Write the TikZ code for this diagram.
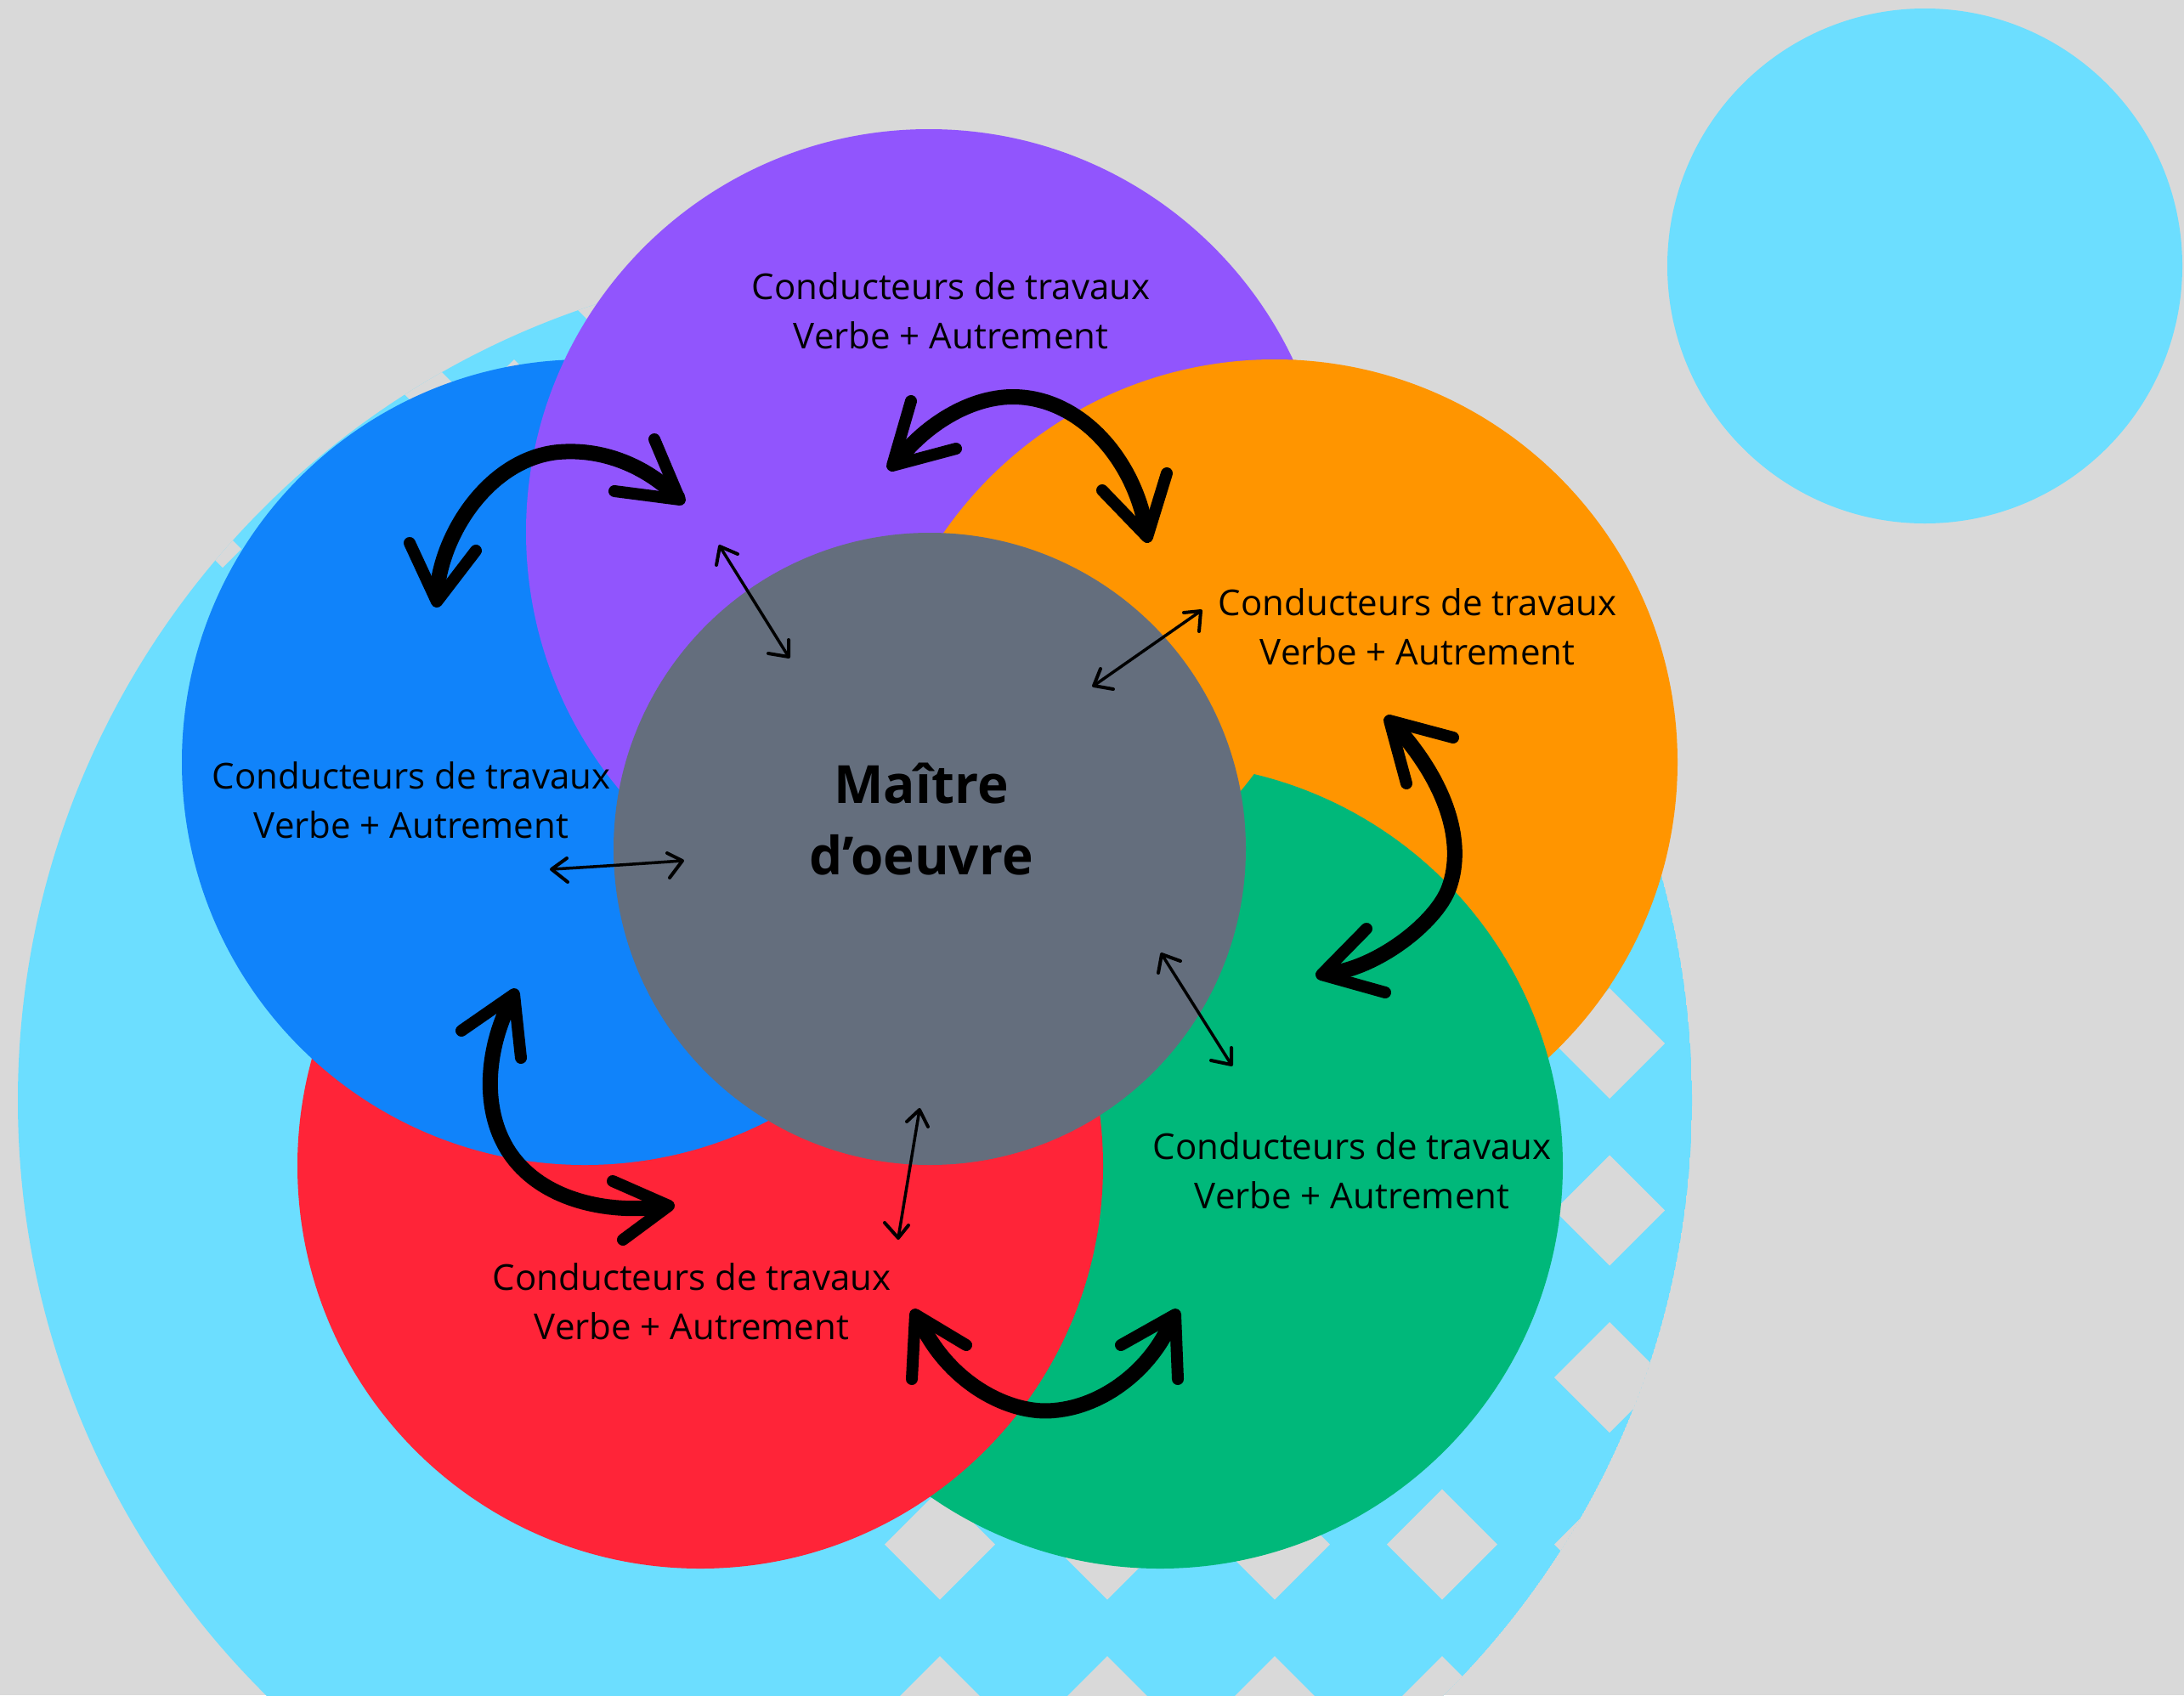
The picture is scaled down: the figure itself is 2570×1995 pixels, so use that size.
\documentclass[tikz,border=0pt]{standalone}
\usepackage{fontspec}
\setmainfont{Open Sans}
\definecolor{bgc}{RGB}{217,217,217}
\definecolor{cyanc}{RGB}{108,222,255}
\definecolor{purplec}{RGB}{145,85,253}
\definecolor{orangec}{RGB}{255,149,0}
\definecolor{bluec}{RGB}{16,131,250}
\definecolor{redc}{RGB}{255,36,56}
\definecolor{greenc}{RGB}{0,184,122}
\definecolor{grayc}{RGB}{100,110,125}
\tikzset{
  lbl/.style={align=center, text=black, inner sep=0pt, font=\fontsize{42}{58}\selectfont},
  mainlbl/.style={align=center, text=black, inner sep=0pt, font=\bfseries\fontsize{62}{84}\selectfont},
  bigarc/.style={draw=black, line width=18pt, line cap=round, line join=round},
  bighead/.style={draw=black, line width=14pt, line cap=round, line join=round},
  thinarc/.style={draw=black, line width=3.5pt, line cap=round},
  thinhead/.style={draw=black, line width=4pt, line cap=round, line join=round},
  hole/.style={fill=bgc}
}
\newcommand{\diam}[3]{\fill[hole] (#1,#2) +(0,-#3) -- +(#3,0) -- +(0,#3) -- +(-#3,0) -- cycle;}
\begin{document}
\begin{tikzpicture}[x=1pt,y=-1pt]
\useasboundingbox (0,0) rectangle (2570,1995);
\fill[bgc] (0,0) rectangle (2570,1995);
% small circle top right
\fill[cyanc] (2265,313) circle[radius=303pt];
% big patterned circle
\begin{scope}
  \clip (1006,1295) circle[radius=985pt];
  \fill[cyanc] (1006,1295) circle[radius=985pt];
  \foreach \i in {0,...,4}{
    \foreach \j in {0,...,4}{
      \pgfmathsetmacro{\dx}{1106+197*\i}
      \pgfmathsetmacro{\dy}{1228+196.5*\j}
      \diam{\dx}{\dy}{65}
    }
  }
  \diam{502}{455}{35}
  \diam{605}{488}{65}
  \diam{740}{360}{65}
  \diam{262}{646}{22}
\end{scope}
% coloured circles (cyclic overlap)
\fill[orangec] (1500,897) circle[radius=474pt];
\fill[greenc] (1365,1372) circle[radius=474pt];
\fill[redc] (824,1372) circle[radius=474pt];
\fill[bluec] (688,897) circle[radius=474pt];
\fill[purplec] (1093,626) circle[radius=474pt];
\begin{scope}
  \clip (1093,626) circle[radius=477pt];
  \fill[orangec] (1500,897) circle[radius=474pt];
\end{scope}
\fill[grayc] (1094,999) circle[radius=372pt];
% labels
\node[lbl] (tP) at (1119,366) {Conducteurs de travaux\\Verbe + Autrement};
\node[lbl] (tO) at (1668,738) {Conducteurs de travaux\\Verbe + Autrement};
\node[lbl] (tB) at (484,942) {Conducteurs de travaux\\Verbe + Autrement};
\node[lbl] (tG) at (1591,1378) {Conducteurs de travaux\\Verbe + Autrement};
\node[lbl] (tR) at (814,1532) {Conducteurs de travaux\\Verbe + Autrement};
\node[mainlbl] (tM) at (1084,964) {Maître\\d’oeuvre};
% big arrow A (blue - purple)
\coordinate (A1) at (514,708); \coordinate (A2) at (800,588);
\draw[bigarc] (514,700) .. controls (518,630) and (575,540) .. (657,532) .. controls (715,527) and (765,553) .. (797,585);
\draw[bighead] (482,639) -- (A1) -- (560,648);
\draw[bighead] (770,517) -- (A2) -- (723,578);
% big arrow B (purple - orange)
\coordinate (B1) at (1050,548); \coordinate (B2) at (1350,632);
\draw[bigarc] (1058,540) .. controls (1090,500) and (1140,468) .. (1190,467) .. controls (1270,466) and (1335,540) .. (1349,625);
\draw[bighead] (1072,472) -- (B1) -- (1125,528);
\draw[bighead] (1373,557) -- (B2) -- (1297,577);
% big arrow C (orange - green)
\coordinate (C1) at (1635,848); \coordinate (C2) at (1555,1147);
\draw[bigarc] (1645,858) .. controls (1700,920) and (1725,990) .. (1705,1045) .. controls (1690,1086) and (1620,1140) .. (1562,1146);
\draw[bighead] (1710,868) -- (C1) -- (1655,922);
\draw[bighead] (1608,1093) -- (C2) -- (1630,1168);
% big arrow D (blue - red)
\coordinate (D1) at (605,1170); \coordinate (D2) at (787,1419);
\draw[bigarc] (600,1180) .. controls (570,1240) and (565,1320) .. (610,1370) .. controls (650,1415) and (720,1428) .. (780,1420);
\draw[bighead] (543,1213) -- (D1) -- (613,1245);
\draw[bighead] (721,1390) -- (D2) -- (733,1459);
% big arrow E (red - green)
\coordinate (E1) at (1077,1547); \coordinate (E2) at (1383,1547);
\draw[bigarc] (1085,1560) .. controls (1120,1630) and (1190,1665) .. (1240,1660) .. controls (1300,1655) and (1355,1610) .. (1378,1556);
\draw[bighead] (1073,1623) -- (E1) -- (1137,1583);
\draw[bighead] (1386,1623) -- (E2) -- (1319,1583);
% thin arrows to the centre
\coordinate (p1) at (847,643); \coordinate (p2) at (928,773);
\draw[thinarc] (p1) -- (p2);
\draw[thinhead] (868,652) -- (p1) -- (843,665);
\draw[thinhead] (928,753) -- (p2) -- (904,769);
\coordinate (o1) at (1413,719); \coordinate (o2) at (1287,807);
\draw[thinarc] (o1) -- (o2);
\draw[thinhead] (1393,721) -- (o1) -- (1411,743);
\draw[thinhead] (1295,787) -- (o2) -- (1310,811);
\coordinate (b1) at (649,1023); \coordinate (b2) at (803,1013);
\draw[thinarc] (b1) .. controls (700,1020) and (760,1016) .. (b2);
\draw[thinhead] (667,1010) -- (b1) -- (668,1038);
\draw[thinhead] (785,1004) -- (b2) -- (788,1033);
\coordinate (g1) at (1367,1123); \coordinate (g2) at (1449,1253);
\draw[thinarc] (g1) -- (g2);
\draw[thinhead] (1389,1131) -- (g1) -- (1363,1145);
\draw[thinhead] (1449,1233) -- (g2) -- (1425,1248);
\coordinate (r1) at (1082,1306); \coordinate (r2) at (1057,1457);
\draw[thinarc] (r1) -- (r2);
\draw[thinhead] (1067,1320) -- (r1) -- (1092,1326);
\draw[thinhead] (1041,1439) -- (r2) -- (1069,1442);
\end{tikzpicture}
\end{document}
